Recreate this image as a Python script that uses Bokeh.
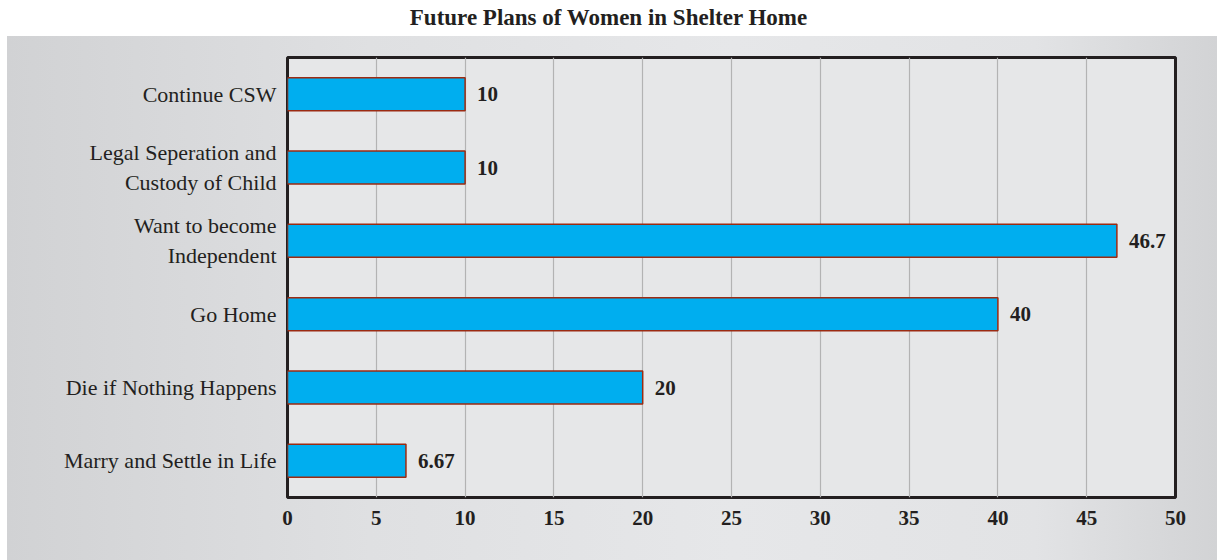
from bokeh.plotting import figure
from bokeh.models import ColumnDataSource, FactorRange, Range1d, Div, Spacer, FixedTicker
from bokeh.layouts import column, row
from bokeh.embed import file_html
from bokeh.resources import INLINE
from bokeh.core.properties import value

categories = [
    "Continue CSW",
    "Legal Seperation and\nCustody of Child",
    "Want to become\nIndependent",
    "Go Home",
    "Die if Nothing Happens",
    "Marry and Settle in Life",
]
values = [10, 10, 46.7, 40, 20, 6.67]
value_labels = ["10", "10", "46.7", "40", "20", "6.67"]
x_ticks = [0, 5, 10, 15, 20, 25, 30, 35, 40, 45, 50]
title_text = "Future Plans of Women in Shelter Home"

FONT = "Liberation Serif"

src = ColumnDataSource(dict(cat=categories, val=values, lab=value_labels))

p = figure(
    width=1210, height=524,
    y_range=FactorRange(*reversed(categories), range_padding=0),
    x_range=Range1d(0, 50),
    output_backend="svg", toolbar_location=None,
    min_border_left=280, min_border_right=42, min_border_top=21, min_border_bottom=63,
)
p.border_fill_alpha = 0
p.styles = {"background": "linear-gradient(90deg, #d1d2d4 0%, #dfe0e2 30%, #e6e7e9 60%, #e2e3e5 85%, #d2d3d5 100%)"}
p.background_fill_color = "#e6e7e8"
p.outline_line_color = "#231f20"
p.outline_line_width = 3

p.hbar(y="cat", right="val", left=0, height=0.45, source=src,
       fill_color="#00aeef", line_color="#9b2b12", line_width=1.5)

p.text(x="val", y="cat", text="lab", source=src, x_offset=12,
       text_baseline="middle", text_align="left",
       text_font=value(FONT), text_font_style="bold",
       text_font_size="21px", text_color="#231f20")

p.xgrid.ticker = FixedTicker(ticks=x_ticks)
p.xgrid.grid_line_color = "#b3b3b3"
p.xgrid.grid_line_width = 1.2
p.ygrid.grid_line_color = None

p.xaxis.ticker = FixedTicker(ticks=x_ticks)
p.xaxis.axis_line_color = None
p.xaxis.major_tick_line_color = None
p.xaxis.minor_tick_line_color = None
p.xaxis.major_label_text_font = FONT
p.xaxis.major_label_text_font_style = "bold"
p.xaxis.major_label_text_font_size = "21px"
p.xaxis.major_label_text_color = "#231f20"
p.xaxis.major_label_standoff = 7

p.yaxis.axis_line_color = None
p.yaxis.major_tick_line_color = None
p.yaxis.minor_tick_line_color = None
p.yaxis.major_label_text_font = FONT
p.yaxis.major_label_text_font_size = "22px"
p.yaxis.major_label_text_color = "#231f20"
p.yaxis.major_label_standoff = 5

title = Div(text=title_text, width=1217, height=36, margin=0,
            styles={"text-align": "center", "font-family": FONT, "font-weight": "bold",
                    "font-size": "23px", "color": "#231f20", "line-height": "36px",
                    "width": "1217px", "background": "white"})

layout = column(title, row(Spacer(width=7, height=524, margin=0), p, margin=0), margin=0, spacing=0)

open("out.html", "w").write(file_html(layout, INLINE))
